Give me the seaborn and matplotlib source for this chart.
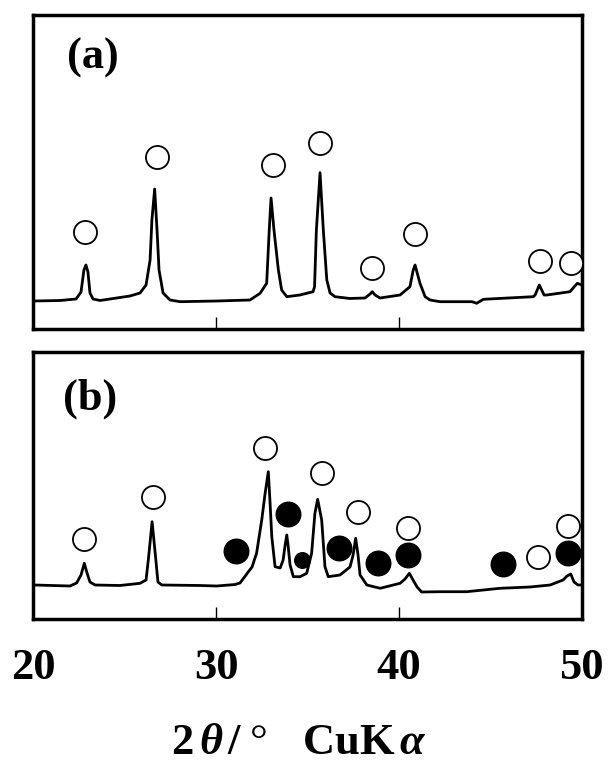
import matplotlib
matplotlib.use("Agg")
import matplotlib.pyplot as plt
import seaborn as sns
import pandas as pd

# ---------------- data ----------------
# pattern (a)
a_two_theta = [20.03, 21.45, 22.33, 22.60, 22.76, 22.87, 22.98, 23.09, 23.26, 23.64,
               25.28, 25.83, 26.16, 26.38, 26.48, 26.63, 26.76, 26.87, 27.09, 27.47,
               28.02, 30.04, 31.85, 32.40, 32.76, 32.90, 33.00, 33.16, 33.40, 33.58,
               33.86, 34.58, 35.30, 35.38, 35.48, 35.68, 35.86, 36.05, 36.23, 36.50,
               37.32, 38.14, 38.42, 38.54, 38.69, 38.96, 40.06, 40.60, 40.78, 40.88,
               41.15, 41.43, 41.70, 42.24, 44.00, 44.25, 44.62, 47.35, 47.45, 47.68,
               47.94, 48.09, 49.36, 49.58, 49.76, 50.00]
a_intensity = [29, 29.5, 31, 38, 60, 65, 58, 37, 31, 29.5,
               34, 37, 45, 70, 110, 141, 100, 60, 37, 30,
               28.3, 29, 30, 36.7, 46.7, 100, 132, 100, 60, 40,
               33.3, 35, 38.3, 43.3, 100, 157.3, 100, 50, 37, 33.3,
               31.5, 32, 36, 38.3, 35, 32, 35, 43.3, 60, 65,
               46.7, 33.3, 30, 28.3, 28.3, 26.7, 30.7, 33.3, 35, 45,
               35, 35, 38.3, 43, 46.7, 45]

# pattern (b)
b_two_theta = [20.03, 22.00, 22.36, 22.60, 22.78, 22.93, 23.09, 23.37, 24.73, 25.83,
               26.16, 26.30, 26.49, 26.68, 26.81, 27.02, 29.11, 30.04, 31.03, 31.30,
               31.63, 31.76, 31.96, 32.21, 32.49, 32.67, 32.85, 32.94, 33.04, 33.22,
               33.50, 33.66, 33.77, 33.86, 33.93, 34.04, 34.22, 34.59, 34.95, 35.22,
               35.40, 35.55, 35.77, 35.95, 36.13, 36.77, 37.32, 37.49, 37.63, 37.76,
               37.87, 38.24, 38.97, 40.06, 40.33, 40.57, 40.77, 40.99, 41.24, 42.25,
               43.71, 45.53, 47.17, 48.27, 48.98, 49.20, 49.40, 49.58, 49.80, 50.00]
b_intensity = [34, 33, 36, 44, 55.7, 46, 37, 34, 33.5, 35.7,
               39, 62, 97.3, 62, 37, 34, 33.5, 33, 34.5, 36,
               44, 47.3, 52, 66, 99, 125, 147.3, 118, 82.3, 52.3,
               51, 59, 74, 84, 74, 54, 42.3, 42.3, 45.7, 65.7,
               105.7, 119.7, 99, 52.3, 42.3, 44, 52, 64, 80.7, 64,
               44, 34, 30.7, 35.7, 40, 45.7, 39, 32, 27, 27.3,
               27.3, 30.7, 32, 34, 39, 43, 45, 37, 34, 34]

# phase markers: open circles (a)
a_open_x = [22.84, 26.74, 33.12, 35.68, 38.54, 40.88, 47.72, 49.40]
a_open_y = [98.3, 172.7, 165.0, 187.3, 62.3, 96.0, 69.3, 66.7]
# open circles (b)
b_open_x = [22.76, 26.52, 32.67, 35.77, 37.78, 40.51, 47.63, 49.27]
b_open_y = [80.0, 121.7, 170.7, 146.3, 107.3, 90.7, 62.3, 93.0]
# filled circles (b)
b_filled_x = [31.07, 33.91, 36.72, 38.84, 40.51, 45.71, 49.27]
b_filled_y = [68.0, 104.7, 70.7, 55.7, 64.0, 55.0, 66.3]
# small filled circle (b)
b_filled_small_x = [34.68]
b_filled_small_y = [59.0]

tick_values = [20, 30, 40, 50]
tick_labels = ["20", "30", "40", "50"]
panel_labels = ["(a)", "(b)"]
x_label = r"$\mathbf{2}\,\theta\,/\;$°$\quad\mathbf{CuK}\,\alpha$"

# ---------------- styling ----------------
sns.set_theme(style="white")
plt.rcParams['font.family'] = ['Liberation Serif', 'DejaVu Serif']
plt.rcParams['font.weight'] = 'bold'
plt.rcParams['mathtext.fontset'] = 'custom'
plt.rcParams['mathtext.rm'] = 'Liberation Serif:bold'
plt.rcParams['mathtext.it'] = 'Liberation Serif:italic:bold'
plt.rcParams['mathtext.bf'] = 'Liberation Serif:bold'
plt.rcParams['mathtext.sf'] = 'DejaVu Sans:bold'

fig = plt.figure(figsize=(6.09, 7.67), dpi=100)
ax_a = fig.add_axes([0.0550, 0.57106, 0.9002, 0.40938])
ax_b = fig.add_axes([0.0550, 0.19296, 0.9002, 0.34811])

df_a = pd.DataFrame({"two_theta": a_two_theta, "intensity": a_intensity})
df_b = pd.DataFrame({"two_theta": b_two_theta, "intensity": b_intensity})

for ax, df in ((ax_a, df_a), (ax_b, df_b)):
    sns.lineplot(data=df, x="two_theta", y="intensity", ax=ax, color="black",
                 linewidth=2.0, estimator=None, sort=False, legend=False)

open_kw = dict(color="white", edgecolor="black", linewidth=1.3, s=276, zorder=3)
sns.scatterplot(x=a_open_x, y=a_open_y, ax=ax_a, **open_kw)
sns.scatterplot(x=b_open_x, y=b_open_y, ax=ax_b, **open_kw)
sns.scatterplot(x=b_filled_x, y=b_filled_y, ax=ax_b, color="black",
                edgecolor="black", linewidth=1.0, s=313, zorder=3)
sns.scatterplot(x=b_filled_small_x, y=b_filled_small_y, ax=ax_b, color="black",
                edgecolor="black", linewidth=1.0, s=125, zorder=3)

ax_a.set_ylim(1, 315)
ax_b.set_ylim(0, 267)

for ax, lab, pos in ((ax_a, panel_labels[0], (0.1085, 0.863)),
                     (ax_b, panel_labels[1], (0.103, 0.824))):
    ax.set_xlim(tick_values[0], tick_values[-1])
    ax.set_xticks(tick_values)
    ax.set_xticklabels(tick_labels)
    ax.set_yticks([])
    ax.set_xlabel("")
    ax.set_ylabel("")
    ax.tick_params(axis="x", direction="in", length=8.6, width=1.0, pad=21,
                   labelsize=32, colors="black", bottom=True, top=False)
    for sp in ax.spines.values():
        sp.set_visible(True)
        sp.set_color("black")
        sp.set_linewidth(2.5)
    ax.text(pos[0], pos[1], lab, transform=ax.transAxes, ha="center",
            va="center", fontsize=32, fontweight="bold", color="black")

ax_a.tick_params(axis="x", labelbottom=False)
ax_b.set_xlabel(x_label, fontsize=32, color="black")
ax_b.xaxis.set_label_coords(0.4843, -0.39)

fig.savefig("out.png", dpi=100)
